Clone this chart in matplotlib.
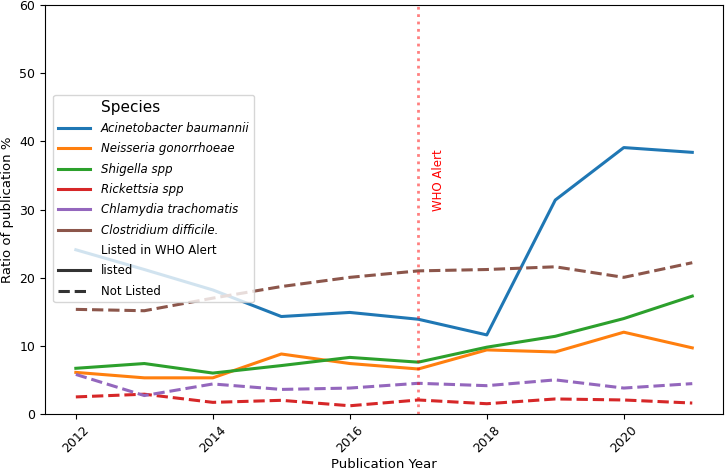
import matplotlib
matplotlib.use("Agg")
import matplotlib.pyplot as plt
from matplotlib.lines import Line2D

years = [2012, 2013, 2014, 2015, 2016, 2017, 2018, 2019, 2020, 2021]

species = ["Acinetobacter baumannii", "Neisseria gonorrhoeae", "Shigella spp",
           "Rickettsia spp", "Chlamydia trachomatis", "Clostridium difficile."]
listed = [True, True, True, False, False, False]

acinetobacter = [24.1, 21.2, 18.2, 14.3, 14.9, 13.9, 11.6, 31.4, 39.1, 38.4]
neisseria = [6.1, 5.3, 5.3, 8.8, 7.4, 6.6, 9.4, 9.1, 12.0, 9.7]
shigella = [6.7, 7.4, 6.0, 7.1, 8.3, 7.6, 9.8, 11.4, 14.0, 17.3]
rickettsia = [2.5, 2.9, 1.7, 2.0, 1.2, 2.05, 1.5, 2.2, 2.05, 1.6]
chlamydia = [5.8, 2.7, 4.4, 3.6, 3.8, 4.5, 4.15, 5.0, 3.8, 4.45]
clostridium = [15.35, 15.15, 17.0, 18.7, 20.05, 21.0, 21.2, 21.6, 20.05, 22.2]

series = [acinetobacter, neisseria, shigella, rickettsia, chlamydia, clostridium]
colors = ["#1f77b4", "#ff7f0e", "#2ca02c", "#d62728", "#9467bd", "#8c564b"]

alert_year = 2017

plt.rcParams["font.size"] = 9

fig = plt.figure(figsize=(7.26, 4.72), dpi=100)
ax = fig.add_axes([0.062, 0.123, 0.934, 0.866])

for name, vals, col, lst in zip(species, series, colors, listed):
    ax.plot(years, vals, color=col, lw=2.2, ls="-" if lst else "--")

ax.axvline(alert_year, color="red", ls=":", lw=2, alpha=0.5)
ax.text(alert_year + 0.2, 29.8, "WHO Alert", rotation=90, color="red",
        fontsize=8.5, va="bottom")

ax.set_ylim(0, 60)
ax.set_yticks(range(0, 61, 10))
ax.set_xticks([2012, 2014, 2016, 2018, 2020])
plt.setp(ax.get_xticklabels(), rotation=45)
ax.set_xlabel("Publication Year", fontsize=9.5, labelpad=2)
ax.set_ylabel("Ratio of publication %", fontsize=9.5)

blank = Line2D([], [], lw=0)
handles = [blank]
labels = ["Species"]
for name, col in zip(species, colors):
    handles.append(Line2D([], [], color=col, lw=2.2))
    labels.append(name)
handles += [blank, Line2D([], [], color="#333333", lw=2.2),
            Line2D([], [], color="#333333", lw=2.2, ls="--")]
labels += ["Listed in WHO Alert", "listed", "Not Listed"]

leg = ax.legend(handles, labels, loc="upper left", bbox_to_anchor=(0.012, 0.78),
                borderaxespad=0, fontsize=8.5, labelspacing=0.62,
                handlelength=2.7, handletextpad=0.95)
texts = leg.get_texts()
texts[0].set_fontsize(11)
for t in texts[1:7]:
    t.set_fontstyle("italic")

fig.savefig("out.png", dpi=100)
